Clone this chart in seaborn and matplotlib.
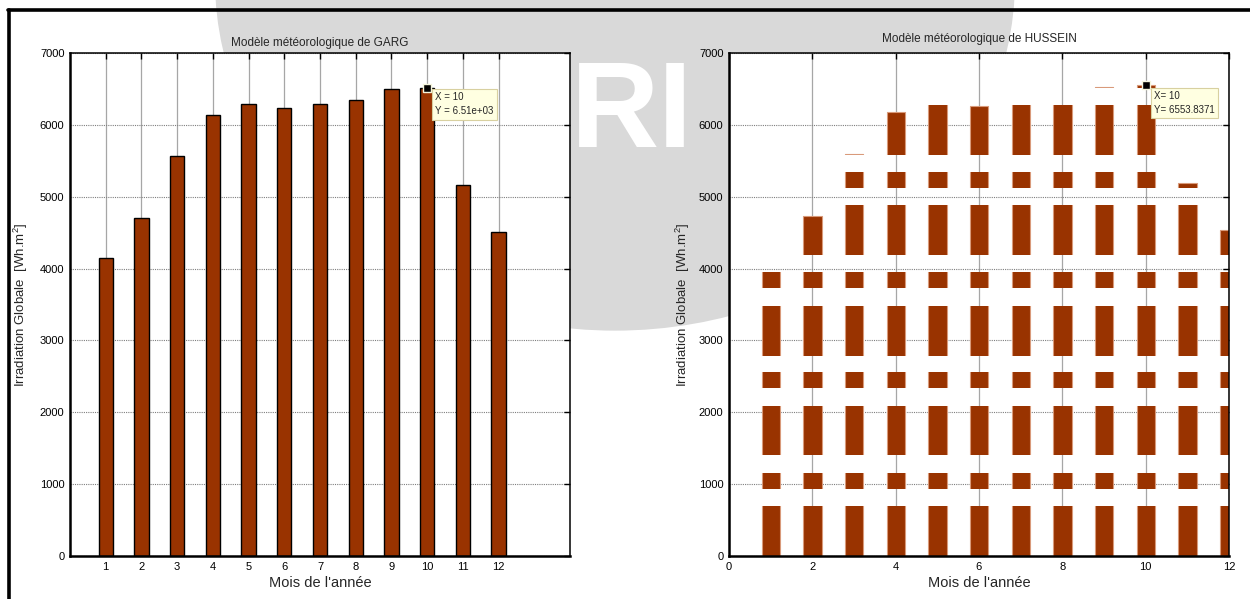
import matplotlib
matplotlib.use("Agg")
import matplotlib.pyplot as plt
from matplotlib.patches import Ellipse
from matplotlib.lines import Line2D
from matplotlib.path import Path
import seaborn as sns

# Irradiation globale mensuelle [Wh.m^2] selon deux modèles
mois = [1, 2, 3, 4, 5, 6, 7, 8, 9, 10, 11, 12]
garg = [4150, 4700, 5560, 6140, 6290, 6240, 6290, 6350, 6500, 6510, 5165, 4510]
hussein = [4175, 4730, 5590, 6180, 6320, 6265, 6320, 6380, 6525, 6553.8371, 5190, 4540]

titres = ["Modèle météorologique de GARG", "Modèle météorologique de HUSSEIN"]
xlabel = "Mois de l'année"
ylabel = r"Irradiation Globale  [Wh.m$^2$]"
yticks = [0, 1000, 2000, 3000, 4000, 5000, 6000, 7000]
xticks_hussein = [0, 2, 4, 6, 8, 10, 12]

# Horizontal bands where the HUSSEIN bars are rendered (the rest is blank)
bandes = [(0, 694), (931, 1157), (1403, 2085), (2334, 2557), (2790, 3486),
          (3727, 3954), (4187, 4879), (5120, 5348), (5583, 6278), (6510, 7100)]

BRUN = "#993300"

sns.set_style("white")
plt.rcParams["font.family"] = ["Liberation Sans", "DejaVu Sans"]
plt.rcParams["mathtext.fontset"] = "custom"
plt.rcParams["mathtext.rm"] = "Liberation Sans"
plt.rcParams["mathtext.it"] = "Liberation Sans:italic"

fig = plt.figure(figsize=(12.5, 5.99), dpi=100)
fig.patch.set_facecolor("white")

# grey logo backdrop behind the two axes
fig.add_artist(Ellipse((0.492, 1.033), 0.64, 1.17, transform=fig.transFigure,
                       facecolor="#d9d9d9", edgecolor="none", zorder=-5))
fig.text(0.5544, 0.755, "RI", color="white", fontsize=88, fontweight="bold",
         ha="right", va="baseline", zorder=-4)
# page frame
fig.add_artist(Line2D([0.0064, 1.0], [0.9833, 0.9833], transform=fig.transFigure,
                      color="black", lw=2.6, zorder=10))
fig.add_artist(Line2D([0.0072, 0.0072], [0.0, 0.9833], transform=fig.transFigure,
                      color="black", lw=2.6, zorder=10))

axL = fig.add_axes([0.056, 0.0718, 0.4, 0.8397])
axR = fig.add_axes([0.5832, 0.0718, 0.4, 0.8397])


def style_axes(ax, xticks, xlim):
    ax.set_facecolor("white")
    ax.set_axisbelow(True)
    ax.set_xlim(*xlim)
    ax.set_ylim(0, 7000)
    ax.set_xticks(xticks)
    ax.set_yticks(yticks)
    ax.grid(axis="x", color="#a6a6a6", lw=0.9, ls="-")
    ax.grid(axis="y", color="#7f7f7f", lw=0.8, ls=(0, (1, 1)))
    ax.tick_params(direction="in", length=4, width=1, top=True, right=True,
                   labelsize=8, colors="black", pad=4)
    for s in ax.spines.values():
        s.set_color("black")
        s.set_linewidth(1.1)
        s.set_visible(True)
    ax.spines["bottom"].set_linewidth(1.8)
    ax.spines["left"].set_linewidth(1.8)
    ax.set_xlabel(xlabel, fontsize=10.5, labelpad=3)


def datatip(ax, x, y, txt, tx, ty):
    ax.plot([x], [y], marker="s", ms=6, mfc="black", mec="#f5f5dc", mew=1,
            zorder=20, clip_on=False)
    ax.text(tx, ty, txt, fontsize=7, va="top", ha="left", zorder=21,
            linespacing=1.5,
            bbox=dict(boxstyle="square,pad=0.35", fc="#ffffe1", ec="#d8d0a0", lw=0.8))


# --- GARG ---
sns.barplot(x=mois, y=garg, native_scale=True, width=0.4, color=BRUN,
            saturation=1, edgecolor="black", linewidth=1, errorbar=None, ax=axL)
style_axes(axL, mois, (0, 14))
axL.set_title(titres[0], fontsize=8.5, pad=5)
axL.set_ylabel(ylabel, fontsize=9.5, labelpad=7)
datatip(axL, 10, garg[9], "X = 10\nY = 6.51e+03", 10.22, 6455)

# --- HUSSEIN ---
sns.barplot(x=mois, y=hussein, native_scale=True, width=0.44, color=BRUN,
            saturation=1, edgecolor="#d99a7a", linewidth=0.8, errorbar=None, ax=axR)
style_axes(axR, xticks_hussein, (0, 12))
axR.set_title(titres[1], fontsize=8.5, pad=8)
axR.set_ylabel(ylabel, fontsize=9.5, labelpad=5)

rects = [Path([(-1, lo), (14, lo), (14, hi), (-1, hi), (-1, lo)],
              [Path.MOVETO, Path.LINETO, Path.LINETO, Path.LINETO, Path.CLOSEPOLY])
         for lo, hi in bandes]
clip = Path.make_compound_path(*rects)
for p in axR.patches:
    p.set_clip_path(clip, transform=axR.transData)

datatip(axR, 10, hussein[9], "X= 10\nY= 6553.8371", 10.2, 6470)

fig.savefig("out.png", dpi=100, facecolor=fig.get_facecolor())
